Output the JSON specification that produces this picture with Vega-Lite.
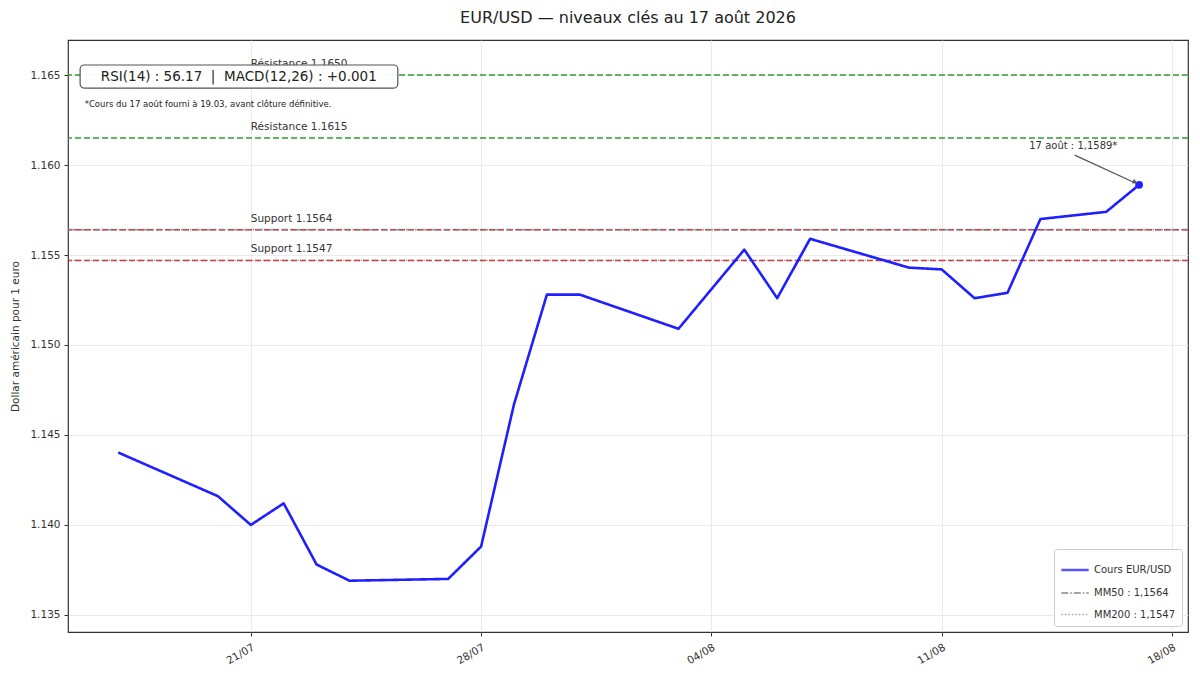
{
  "$schema": "https://vega.github.io/schema/vega-lite/v6.json",
  "autosize": {"type": "none"},
  "width": 1120,
  "height": 592,
  "padding": {"left": 68, "top": 40, "right": 12, "bottom": 43},
  "background": "white",
  "title": {
    "text": "EUR/USD — niveaux clés au 17 août 2026",
    "font": "DejaVu Sans",
    "fontSize": 16,
    "fontWeight": "normal",
    "color": "#222222",
    "anchor": "middle",
    "offset": 14
  },
  "config": {
    "font": "DejaVu Sans",
    "view": {"stroke": "#333333", "strokeWidth": 1.2},
    "axis": {
      "labelFont": "DejaVu Sans",
      "titleFont": "DejaVu Sans",
      "labelColor": "#333333",
      "titleColor": "#333333",
      "tickColor": "#333333",
      "domain": false,
      "gridColor": "#e6e6e6",
      "gridWidth": 0.8
    }
  },
  "datasets": {
    "prices": [
      {"date": "2026-07-17", "price": 1.1440, "series": "Cours EUR/USD"},
      {"date": "2026-07-20", "price": 1.1416, "series": "Cours EUR/USD"},
      {"date": "2026-07-21", "price": 1.1400, "series": "Cours EUR/USD"},
      {"date": "2026-07-22", "price": 1.1412, "series": "Cours EUR/USD"},
      {"date": "2026-07-23", "price": 1.1378, "series": "Cours EUR/USD"},
      {"date": "2026-07-24", "price": 1.1369, "series": "Cours EUR/USD"},
      {"date": "2026-07-27", "price": 1.1370, "series": "Cours EUR/USD"},
      {"date": "2026-07-28", "price": 1.1388, "series": "Cours EUR/USD"},
      {"date": "2026-07-29", "price": 1.1467, "series": "Cours EUR/USD"},
      {"date": "2026-07-30", "price": 1.1528, "series": "Cours EUR/USD"},
      {"date": "2026-07-31", "price": 1.1528, "series": "Cours EUR/USD"},
      {"date": "2026-08-03", "price": 1.1509, "series": "Cours EUR/USD"},
      {"date": "2026-08-04", "price": 1.1531, "series": "Cours EUR/USD"},
      {"date": "2026-08-05", "price": 1.1553, "series": "Cours EUR/USD"},
      {"date": "2026-08-06", "price": 1.1526, "series": "Cours EUR/USD"},
      {"date": "2026-08-07", "price": 1.1559, "series": "Cours EUR/USD"},
      {"date": "2026-08-10", "price": 1.1543, "series": "Cours EUR/USD"},
      {"date": "2026-08-11", "price": 1.1542, "series": "Cours EUR/USD"},
      {"date": "2026-08-12", "price": 1.1526, "series": "Cours EUR/USD"},
      {"date": "2026-08-13", "price": 1.1529, "series": "Cours EUR/USD"},
      {"date": "2026-08-14", "price": 1.1570, "series": "Cours EUR/USD"},
      {"date": "2026-08-16", "price": 1.1574, "series": "Cours EUR/USD"},
      {"date": "2026-08-17", "price": 1.1589, "series": "Cours EUR/USD"}
    ],
    "levels": [
      {"level": 1.1650, "label": "Résistance 1.1650", "kind": "resistance"},
      {"level": 1.1615, "label": "Résistance 1.1615", "kind": "resistance"},
      {"level": 1.1564, "label": "Support 1.1564", "kind": "support"},
      {"level": 1.1547, "label": "Support 1.1547", "kind": "support"}
    ],
    "mm": [
      {"value": 1.1564, "series": "MM50 : 1,1564"},
      {"value": 1.1547, "series": "MM200 : 1,1547"}
    ],
    "last": [
      {"date": "2026-08-17", "price": 1.1589}
    ]
  },
  "layer": [
    {
      "data": {"name": "levels"},
      "transform": [{"filter": "datum.kind === 'resistance'"}],
      "mark": {"type": "rule", "color": "#2ca02c", "strokeWidth": 1.5, "strokeDash": [6, 3]},
      "encoding": {
        "y": {
          "field": "level",
          "type": "quantitative",
          "scale": {"domain": [1.13405, 1.16695], "nice": false, "zero": false},
          "axis": {
            "values": [1.135, 1.14, 1.145, 1.15, 1.155, 1.16, 1.165],
            "format": ".3f",
            "title": "Dollar américain pour 1 euro",
            "titleFontSize": 10.5,
            "titleFontWeight": "normal",
            "titlePadding": 9,
            "labelFontSize": 10.5,
            "tickSize": 4,
            "labelPadding": 4,
            "grid": true
          }
        }
      }
    },
    {
      "data": {"name": "levels"},
      "transform": [{"filter": "datum.kind === 'support'"}],
      "mark": {"type": "rule", "color": "#d62728", "strokeWidth": 1.5, "strokeDash": [6, 3]},
      "encoding": {
        "y": {"field": "level", "type": "quantitative"}
      }
    },
    {
      "data": {"name": "mm"},
      "mark": {"type": "rule", "opacity": 0.75},
      "encoding": {
        "y": {"field": "value", "type": "quantitative"},
        "color": {"field": "series", "type": "nominal"},
        "strokeDash": {"field": "series", "type": "nominal"},
        "strokeWidth": {"field": "series", "type": "nominal"}
      }
    },
    {
      "data": {"name": "levels"},
      "mark": {"type": "text", "align": "left", "baseline": "bottom", "dy": -6, "fontSize": 10.5, "color": "#333333"},
      "encoding": {
        "x": {
          "datum": {"year": 2026, "month": 7, "date": 21, "utc": true},
          "type": "temporal",
          "scale": {
            "type": "utc",
            "domain": [
              {"year": 2026, "month": 7, "date": 15, "hours": 10, "minutes": 40, "utc": true},
              {"year": 2026, "month": 8, "date": 18, "hours": 11, "minutes": 40, "utc": true}
            ]
          },
          "axis": {
            "title": null,
            "values": [
              {"year": 2026, "month": 7, "date": 21, "utc": true},
              {"year": 2026, "month": 7, "date": 28, "utc": true},
              {"year": 2026, "month": 8, "date": 4, "utc": true},
              {"year": 2026, "month": 8, "date": 11, "utc": true},
              {"year": 2026, "month": 8, "date": 18, "utc": true}
            ],
            "labelExpr": "utcFormat(datum.value, '%d/%m')",
            "labelAngle": -30,
            "labelAlign": "right",
            "labelBaseline": "top",
            "labelFontSize": 10.5,
            "tickSize": 4,
            "labelPadding": 6,
            "grid": true
          }
        },
        "y": {"field": "level", "type": "quantitative"},
        "text": {"field": "label"}
      }
    },
    {
      "data": {"name": "prices"},
      "mark": {"type": "line", "strokeCap": "round", "strokeJoin": "round"},
      "encoding": {
        "x": {"field": "date", "type": "temporal"},
        "y": {"field": "price", "type": "quantitative"},
        "color": {
          "field": "series",
          "type": "nominal",
          "scale": {
            "domain": ["Cours EUR/USD", "MM50 : 1,1564", "MM200 : 1,1547"],
            "range": ["#2020ff", "#888888", "#888888"]
          },
          "legend": {
            "title": null,
            "orient": "bottom-right",
            "offset": 6,
            "fillColor": "white",
            "strokeColor": "#cccccc",
            "cornerRadius": 3,
            "padding": 6,
            "labelFontSize": 10,
            "labelColor": "#333333",
            "symbolType": "stroke",
            "symbolSize": 750,
            "rowPadding": 2
          }
        },
        "strokeDash": {
          "field": "series",
          "type": "nominal",
          "scale": {
            "domain": ["Cours EUR/USD", "MM50 : 1,1564", "MM200 : 1,1547"],
            "range": [[1, 0], [7, 2, 1.5, 2], [1.5, 2]]
          },
          "legend": {"title": null}
        },
        "strokeWidth": {
          "field": "series",
          "type": "nominal",
          "scale": {
            "domain": ["Cours EUR/USD", "MM50 : 1,1564", "MM200 : 1,1547"],
            "range": [2.6, 1.3, 1.3]
          },
          "legend": {"title": null}
        }
      }
    },
    {
      "data": {"name": "last"},
      "mark": {"type": "point", "filled": true, "color": "#2020ff", "size": 60, "opacity": 1},
      "encoding": {
        "x": {"field": "date", "type": "temporal"},
        "y": {"field": "price", "type": "quantitative"}
      }
    },
    {
      "data": {"values": [{}]},
      "mark": {"type": "rule", "color": "#555555", "strokeWidth": 1.2},
      "encoding": {
        "x": {"datum": {"year": 2026, "month": 8, "date": 15, "hours": 1, "utc": true}, "type": "temporal"},
        "y": {"datum": 1.16055},
        "x2": {"datum": {"year": 2026, "month": 8, "date": 16, "hours": 21, "minutes": 40, "utc": true}},
        "y2": {"datum": 1.15899}
      }
    },
    {
      "data": {"values": [{}]},
      "mark": {"type": "point", "shape": "triangle-right", "filled": true, "color": "#555555", "size": 28, "angle": 25, "opacity": 1},
      "encoding": {
        "x": {"datum": {"year": 2026, "month": 8, "date": 16, "hours": 21, "minutes": 0, "utc": true}, "type": "temporal"},
        "y": {"datum": 1.15905}
      }
    },
    {
      "data": {"values": [{}]},
      "mark": {"type": "text", "text": "17 août : 1,1589*", "align": "center", "baseline": "middle", "fontSize": 10, "color": "#333333"},
      "encoding": {
        "x": {"datum": {"year": 2026, "month": 8, "date": 15, "hours": 0, "utc": true}, "type": "temporal"},
        "y": {"datum": 1.16105}
      }
    },
    {
      "data": {"values": [{}]},
      "mark": {"type": "rect", "fill": "white", "fillOpacity": 0.95, "stroke": "#555555", "strokeWidth": 1.2, "cornerRadius": 4},
      "encoding": {
        "x": {"datum": {"year": 2026, "month": 7, "date": 15, "hours": 19, "minutes": 30, "utc": true}, "type": "temporal"},
        "x2": {"datum": {"year": 2026, "month": 7, "date": 25, "hours": 11, "minutes": 15, "utc": true}},
        "y": {"datum": 1.16556},
        "y2": {"datum": 1.16428}
      }
    },
    {
      "data": {"values": [{}]},
      "mark": {"type": "text", "text": "RSI(14) : 56.17\u00a0\u00a0|\u00a0\u00a0MACD(12,26) : +0.001", "align": "center", "baseline": "middle", "fontSize": 13.5, "color": "#222222"},
      "encoding": {
        "x": {"datum": {"year": 2026, "month": 7, "date": 20, "hours": 15, "minutes": 15, "utc": true}, "type": "temporal"},
        "y": {"datum": 1.16492}
      }
    },
    {
      "data": {"values": [{}]},
      "mark": {"type": "text", "text": "*Cours du 17 août fourni à 19.03, avant clôture définitive.", "align": "left", "baseline": "middle", "fontSize": 8.5, "color": "#222222"},
      "encoding": {
        "x": {"datum": {"year": 2026, "month": 7, "date": 15, "hours": 22, "minutes": 50, "utc": true}, "type": "temporal"},
        "y": {"datum": 1.16339}
      }
    }
  ]
}
